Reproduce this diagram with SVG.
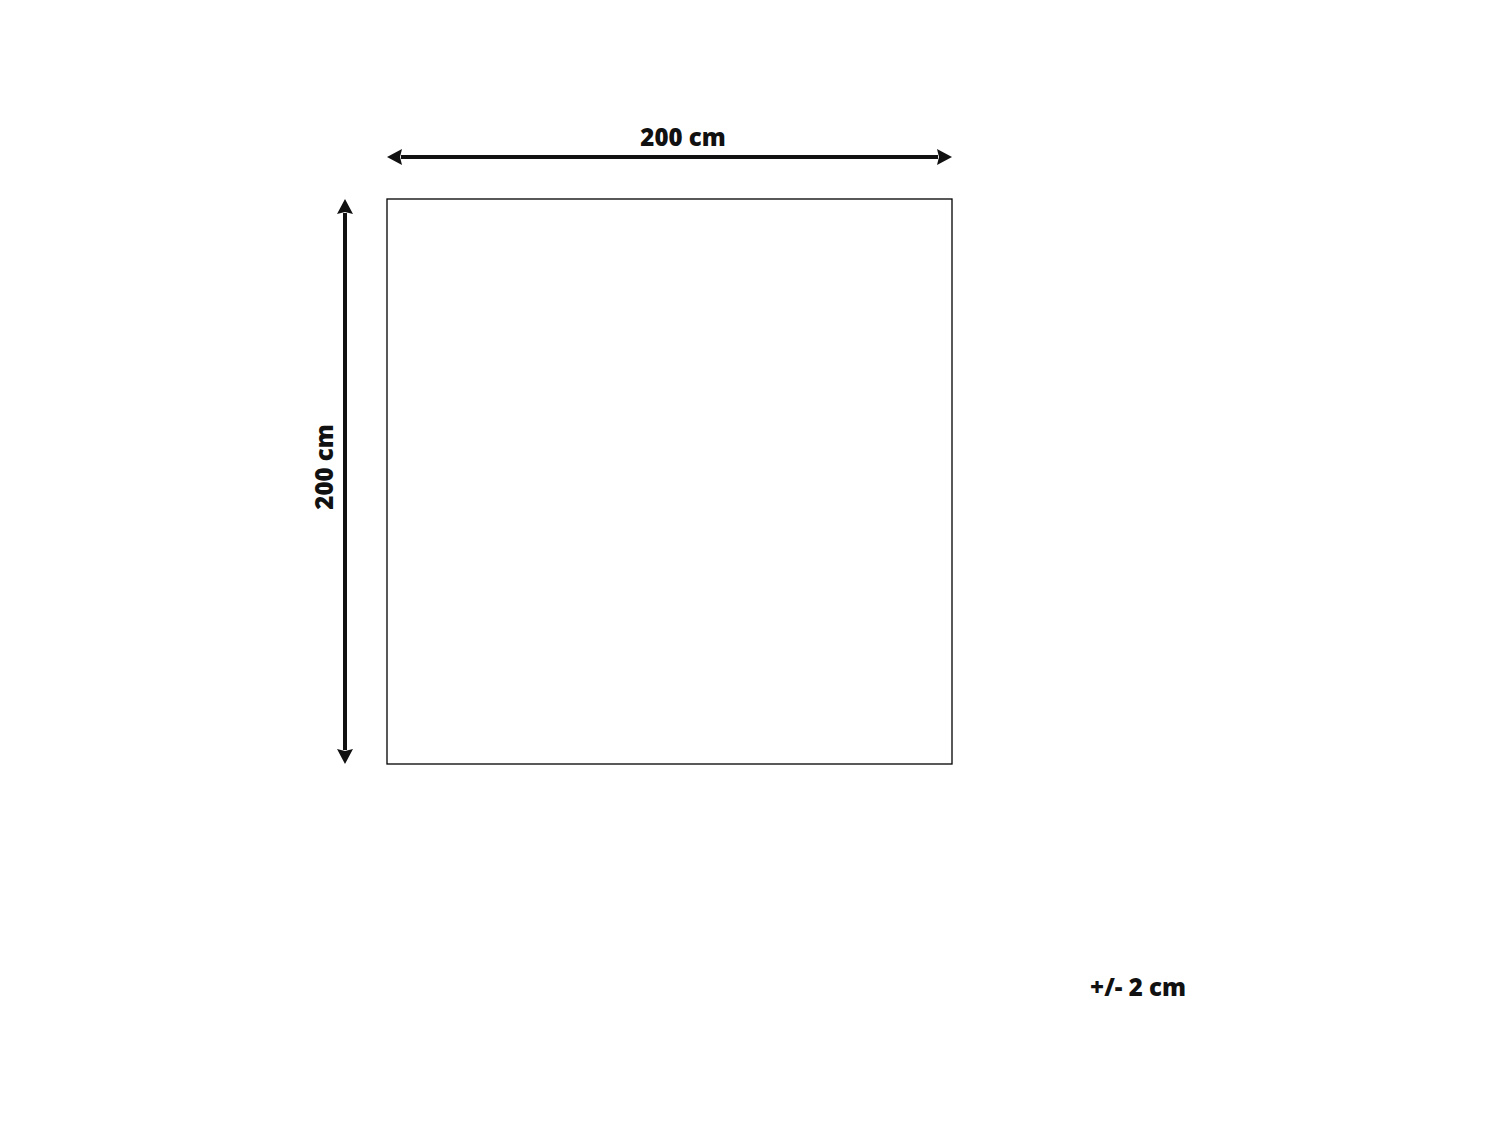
<svg xmlns="http://www.w3.org/2000/svg" width="1500" height="1125" viewBox="0 0 1500 1125">
<style>
.lbl{font-family:"Open Sans","Liberation Sans",sans-serif;font-weight:800;font-size:24px;fill:#111;text-anchor:middle}
.dim{stroke:#111;stroke-width:4;fill:none}
</style>
<defs>
<marker id="ah" viewBox="0 0 15 16" refX="1" refY="8" markerWidth="15" markerHeight="16" markerUnits="userSpaceOnUse" orient="auto-start-reverse">
<path d="M0,0 L15,8 L0,16 L2,8 Z" fill="#111"/>
</marker>
</defs>
<rect width="1500" height="1125" fill="#fff"/>
<g id="rug">
<rect x="387" y="199" width="565" height="565" fill="#fff" stroke="#000" stroke-width="1.3"/>
</g>
<g id="connectors">
<line class="dim" x1="401" y1="157" x2="938" y2="157" marker-start="url(#ah)" marker-end="url(#ah)"/>
<line class="dim" x1="345" y1="213" x2="345" y2="750" marker-start="url(#ah)" marker-end="url(#ah)"/>
</g>
<g id="labels">
<text class="lbl" x="683" y="146">200 cm</text>
<text class="lbl" transform="translate(333,467) rotate(-90)" x="0" y="0">200 cm</text>
<text class="lbl" x="1138" y="996">+/- 2 cm</text>
</g>
</svg>
